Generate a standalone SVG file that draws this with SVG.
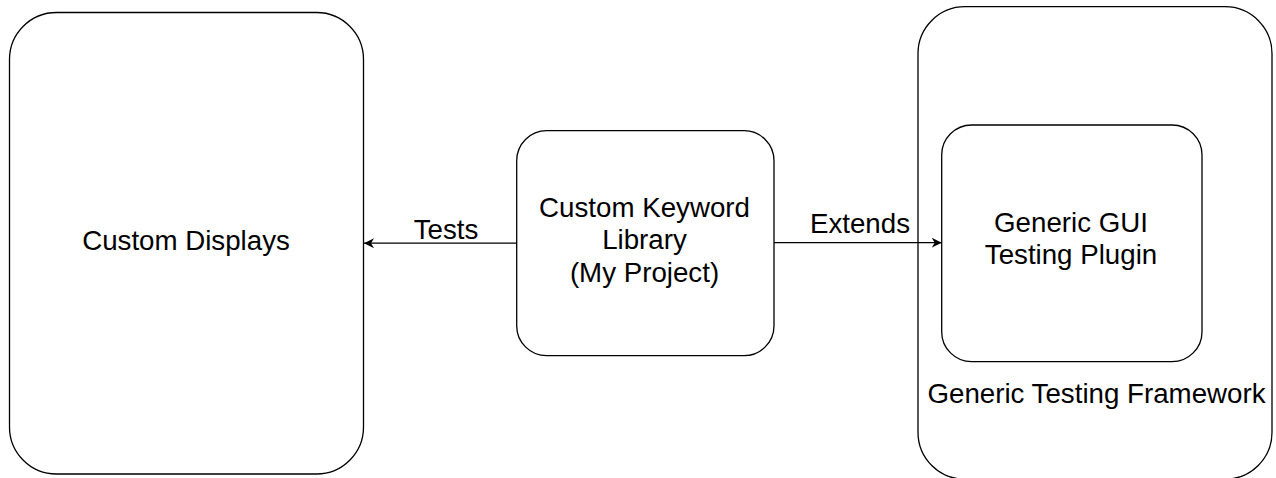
<svg xmlns="http://www.w3.org/2000/svg" width="1276" height="478" viewBox="0 0 1276 478">
<style>
.box{fill:#fff;stroke:#000;stroke-width:1.3}
.t{font-family:"Liberation Sans",Arial,sans-serif;font-size:27.7px;fill:#000;text-anchor:middle}
.edge{fill:none;stroke:#000;stroke-width:1.3}
</style>
<defs>
<marker id="arr" viewBox="0 0 10 10" refX="10" refY="5" markerWidth="10" markerHeight="10" markerUnits="userSpaceOnUse" orient="auto">
<path d="M0,0 L10,5 L0,10 L3,5 Z" fill="#000"/>
</marker>
</defs>
<g id="custom-displays">
<rect class="box" x="9.5" y="12.5" width="354" height="461.5" rx="47" ry="47"/>
<text class="t" x="186" y="249.5">Custom Displays</text>
</g>
<g id="generic-testing-framework">
<rect class="box" x="918" y="6.7" width="354" height="472.5" rx="47" ry="47"/>
<text class="t" x="1096.5" y="402.5">Generic Testing Framework</text>
</g>
<g id="generic-gui-plugin">
<rect class="box" x="941.7" y="125" width="260.3" height="236.7" rx="30" ry="30"/>
<text class="t" x="1071" y="231.5">Generic GUI</text>
<text class="t" x="1071" y="264">Testing Plugin</text>
</g>
<g id="custom-keyword-library">
<rect class="box" x="516.7" y="130.7" width="257.3" height="225" rx="30" ry="30"/>
<text class="t" x="644.5" y="216.5">Custom Keyword</text>
<text class="t" x="644.5" y="249">Library</text>
<text class="t" x="644.5" y="281.5">(My Project)</text>
</g>
<g id="connectors">
<path class="edge" d="M516.7,243.2 L364,243.2" marker-end="url(#arr)"/>
<text class="t" x="446" y="238.5">Tests</text>
<path class="edge" d="M774,242.7 L941.7,242.7" marker-end="url(#arr)"/>
<text class="t" x="860" y="232.5">Extends</text>
</g>
</svg>
